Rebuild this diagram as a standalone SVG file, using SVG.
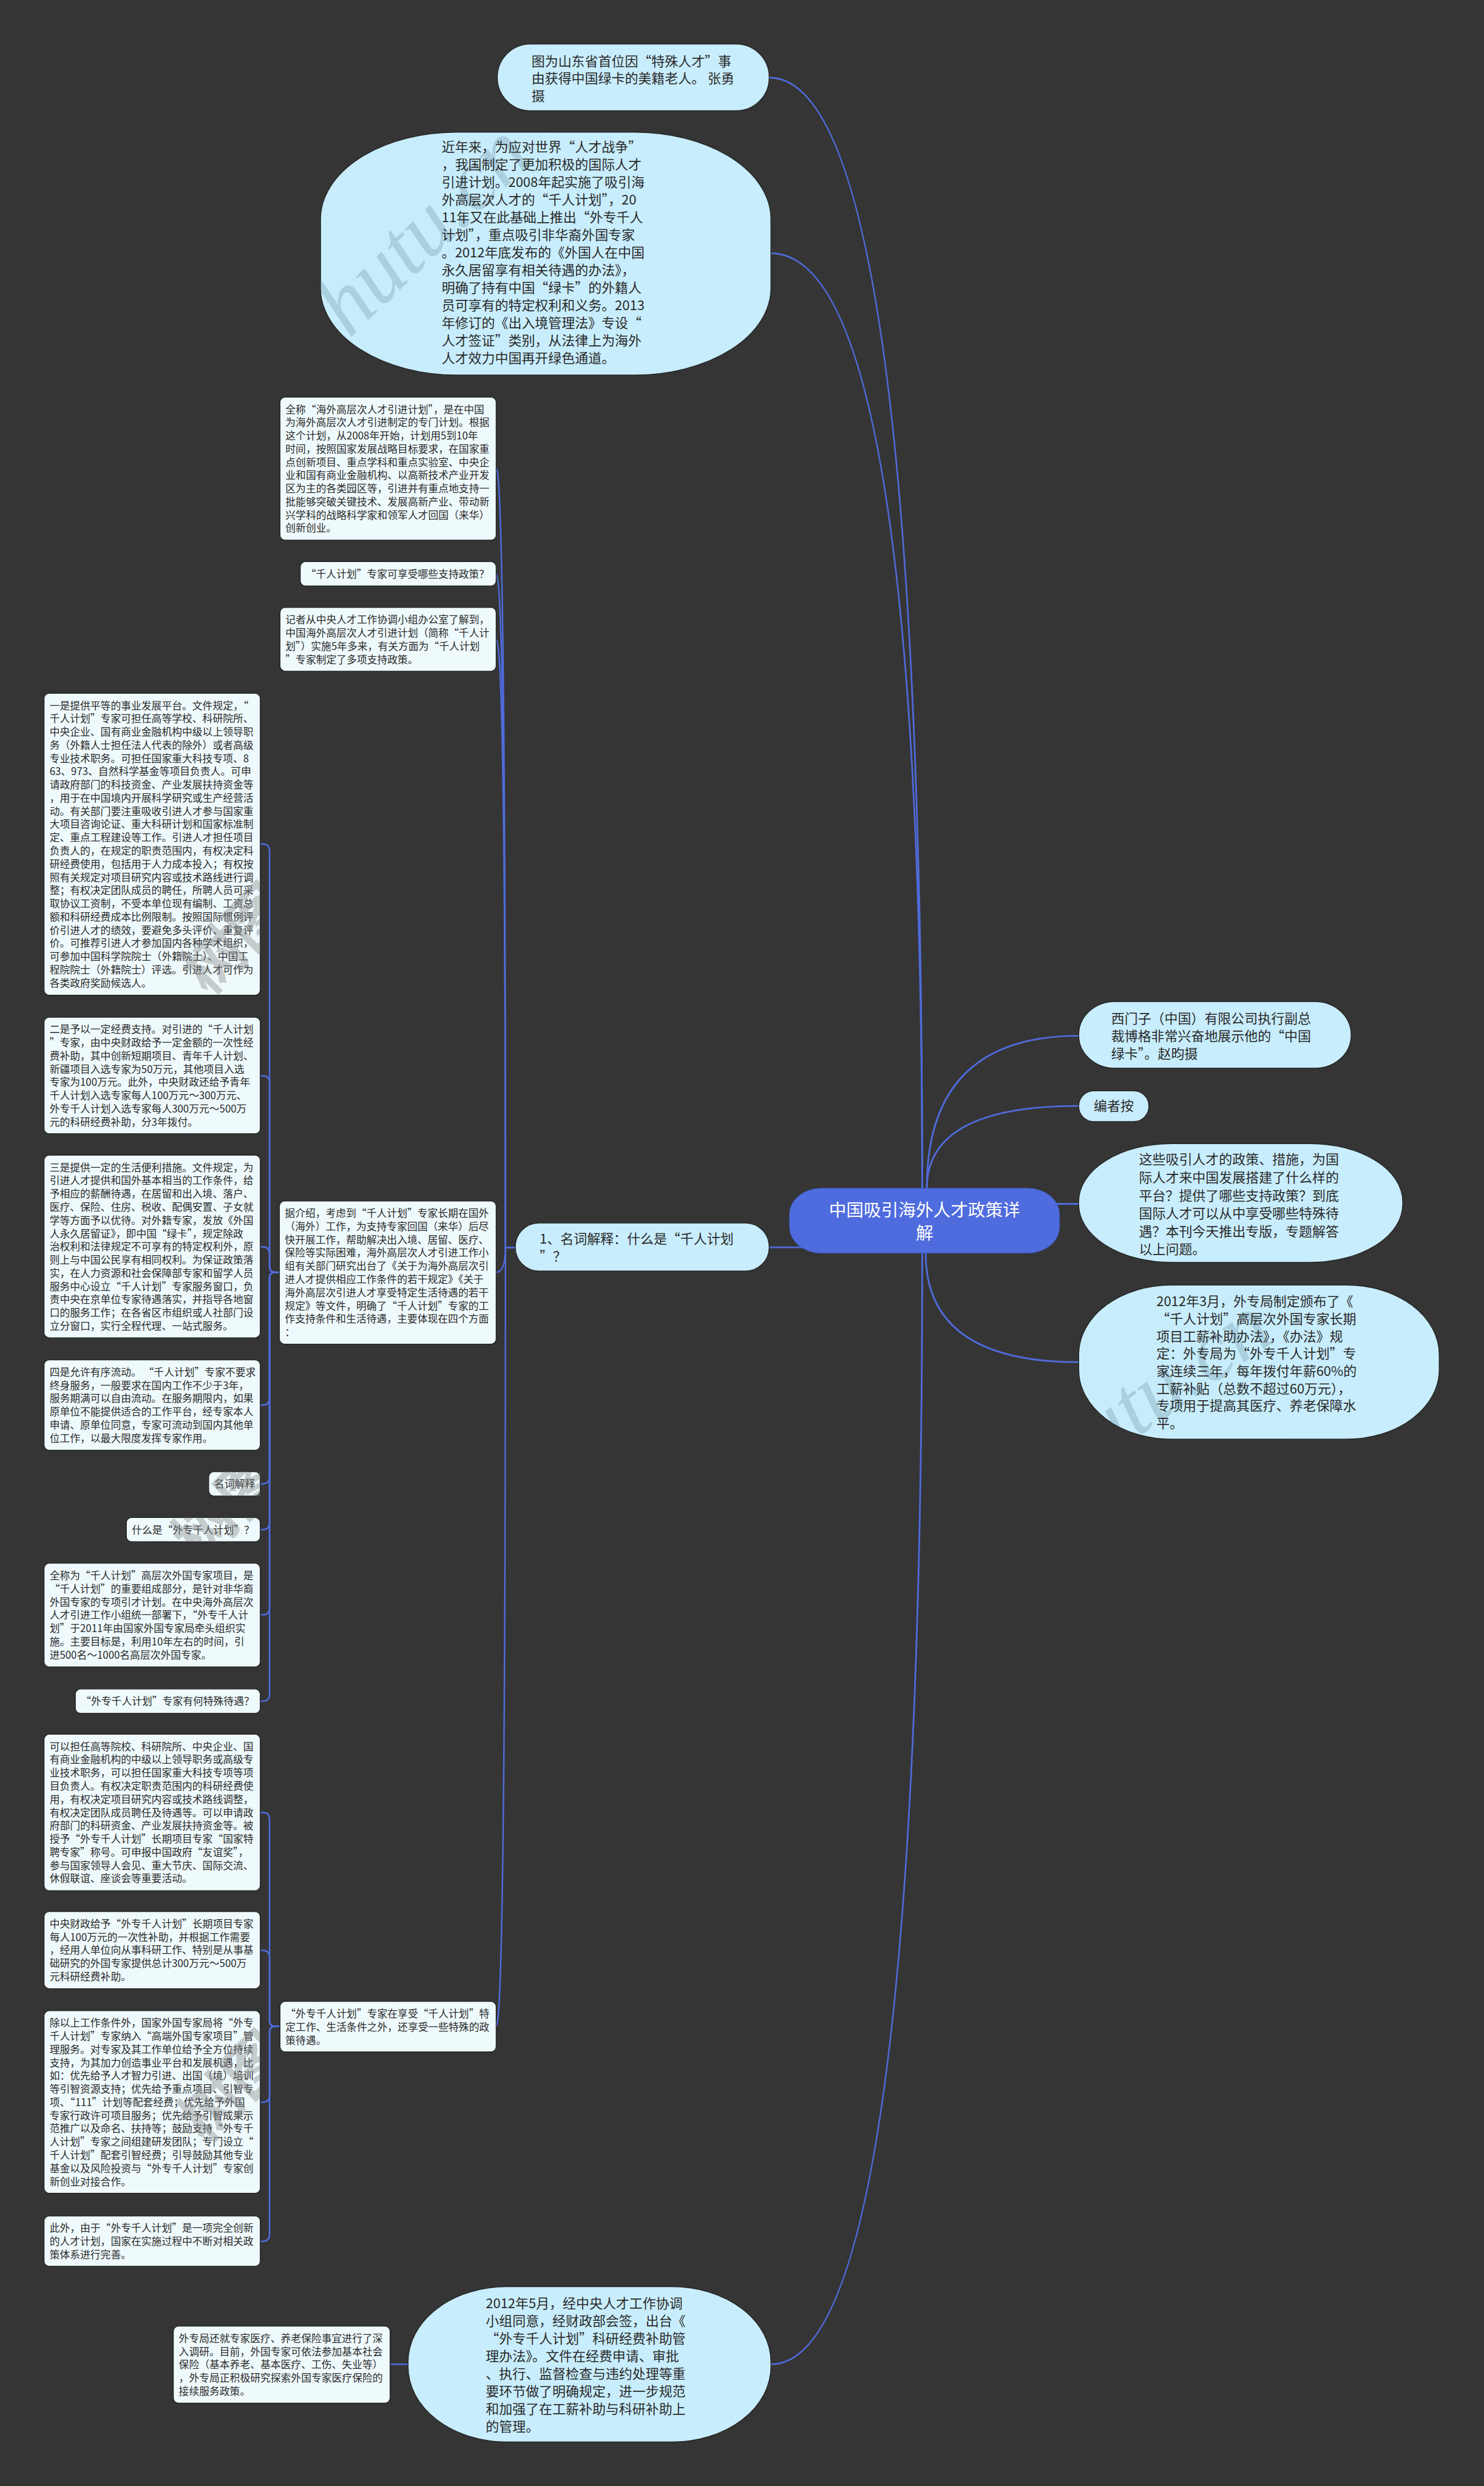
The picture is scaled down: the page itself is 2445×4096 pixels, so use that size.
<svg xmlns="http://www.w3.org/2000/svg" width="2445" height="4096" viewBox="0 0 2445 4096">
<style>
.bub{fill:#C8EDFC;stroke:#262626;stroke-width:1.5}
.box{fill:#EFFAFD;stroke:#262626;stroke-width:1.5}
.root{fill:#4F6CDE;stroke:#3d56b8;stroke-width:1}
.t1{font-family:"Noto Sans CJK SC","Noto Sans",sans-serif;font-size:23px;fill:#2a2a2a}
.t2{font-family:"Noto Sans CJK SC","Noto Sans",sans-serif;font-size:17.6px;fill:#2a2a2a}
.tr{font-family:"Noto Sans CJK SC","Noto Sans",sans-serif;font-size:30px;fill:#ffffff;text-anchor:middle}
.con{fill:none;stroke:#4F6BDB;stroke-width:3;stroke-linecap:round}
.con2{fill:none;stroke:#4F6BDB;stroke-width:2.6;stroke-linecap:round}
.wm{font-family:"Liberation Serif",serif;font-style:italic;font-size:150px;fill:#6f93a5;opacity:0.32}
.wm2{font-family:"Noto Sans CJK SC",sans-serif;font-weight:bold;font-size:105px;fill:#888888;opacity:0.4}
</style>
<defs>
<clipPath id="clipB"><rect x="553" y="228" width="777" height="419" rx="235" ry="150"/></clipPath>
<clipPath id="clipM"><rect x="1861" y="2217" width="622" height="266" rx="160" ry="120"/></clipPath>
<clipPath id="clipL">
<rect x="76" y="1196" width="373" height="521"/>
<rect x="360" y="2539" width="89" height="42"/>
<rect x="218" y="2618" width="231" height="42"/>
<rect x="76" y="2697" width="373" height="179"/>
<rect x="76" y="3469" width="373" height="315"/>
</clipPath>
</defs>
<rect x="0" y="0" width="2445" height="4096" fill="#353535"/>
<g transform="scale(0.955)">
<g id="connectors">
<path class="con" d="M1591 2106 V2050 Q1591 134 1327 134"/>
<path class="con" d="M1591 2106 V2050 Q1591 437 1330 437"/>
<path class="con" d="M1595 2152 H1327"/>
<path class="con" d="M1591 2106 V2162 Q1591 4079 1330 4079"/>
<path class="con" d="M1599 2106 V2050 Q1599 1787 1861 1787"/>
<path class="con" d="M1599 2106 V2050 Q1599 1908 1861 1908"/>
<path class="con" d="M1800 2077 H1861"/>
<path class="con" d="M1597 2106 V2162 Q1597 2350 1861 2350"/>
<path class="con2" d="M889 2152 H872 Q872 808 856 808"/>
<path class="con2" d="M889 2152 H872 Q872 990 856 990"/>
<path class="con2" d="M889 2152 H872 Q872 1103 856 1103"/>
<path class="con2" d="M889 2152 H872 Q872 2195 856 2195"/>
<path class="con2" d="M889 2152 H872 Q872 3496 856 3496"/>
<path class="con2" d="M482 2195 H475 Q465 2195 465 2185 V1468 Q465 1456 453 1456 H449"/>
<path class="con2" d="M482 2195 H475 Q465 2195 465 2185 V1868 Q465 1856 453 1856 H449"/>
<path class="con2" d="M482 2195 H475 Q465 2195 465 2185 V2163 Q465 2151 453 2151 H449"/>
<path class="con2" d="M482 2195 H475 Q465 2195 465 2205 V2412 Q465 2424 453 2424 H449"/>
<path class="con2" d="M482 2195 H475 Q465 2195 465 2205 V2548 Q465 2560 453 2560 H449"/>
<path class="con2" d="M482 2195 H475 Q465 2195 465 2205 V2627 Q465 2639 453 2639 H449"/>
<path class="con2" d="M482 2195 H475 Q465 2195 465 2205 V2774 Q465 2786 453 2786 H449"/>
<path class="con2" d="M482 2195 H475 Q465 2195 465 2205 V2923 Q465 2935 453 2935 H449"/>
<path class="con2" d="M483 3496 H475 Q465 3496 465 3486 V3139 Q465 3127 453 3127 H449"/>
<path class="con2" d="M483 3496 H475 Q465 3496 465 3486 V3377 Q465 3365 453 3365 H449"/>
<path class="con2" d="M483 3496 H475 Q465 3496 465 3506 V3615 Q465 3627 453 3627 H449"/>
<path class="con2" d="M483 3496 H475 Q465 3496 465 3506 V3855 Q465 3867 453 3867 H449"/>
<path class="con2" d="M704 4079 H673"/>
</g>

<g id="n-top-photo">
<rect class="bub" x="858" y="76" width="469" height="115" rx="57" ry="57"/>
<text class="t1" x="917" y="113.7"><tspan x="917" dy="0">图为山东省首位因“特殊人才”事</tspan><tspan x="917" dy="30">由获得中国绿卡的美籍老人。 张勇</tspan><tspan x="917" dy="30">摄</tspan></text>
</g>

<g id="n-intro">
<rect class="bub" x="553" y="228" width="777" height="419" rx="235" ry="150"/>
<g clip-path="url(#clipB)"><text class="wm" x="560" y="625" transform="rotate(-44 560 625)">shutu.cn</text></g>
<text class="t1" x="762" y="261.7"><tspan x="762" dy="0">近年来，为应对世界“人才战争”</tspan><tspan x="762" dy="30.4">，我国制定了更加积极的国际人才</tspan><tspan x="762" dy="30.4">引进计划。2008年起实施了吸引海</tspan><tspan x="762" dy="30.4">外高层次人才的“千人计划”，20</tspan><tspan x="762" dy="30.4">11年又在此基础上推出“外专千人</tspan><tspan x="762" dy="30.4">计划”，重点吸引非华裔外国专家</tspan><tspan x="762" dy="30.4">。2012年底发布的《外国人在中国</tspan><tspan x="762" dy="30.4">永久居留享有相关待遇的办法》，</tspan><tspan x="762" dy="30.4">明确了持有中国“绿卡”的外籍人</tspan><tspan x="762" dy="30.4">员可享有的特定权利和义务。2013</tspan><tspan x="762" dy="30.4">年修订的《出入境管理法》专设“</tspan><tspan x="762" dy="30.4">人才签证”类别，从法律上为海外</tspan><tspan x="762" dy="30.4">人才效力中国再开绿色通道。</tspan></text>
</g>

<g id="n-root">
<rect class="root" x="1362" y="2050" width="466" height="112" rx="55" ry="45"/>
<text class="tr" x="1595" y="2098.4"><tspan x="1595" dy="0">中国吸引海外人才政策详</tspan><tspan x="1595" dy="40">解</tspan></text>
</g>

<g id="n-siemens">
<rect class="bub" x="1861" y="1728" width="470" height="115" rx="62" ry="57"/>
<text class="t1" x="1917" y="1765.7"><tspan x="1917" dy="0">西门子（中国）有限公司执行副总</tspan><tspan x="1917" dy="30">裁博格非常兴奋地展示他的“中国</tspan><tspan x="1917" dy="30">绿卡”。赵昀摄</tspan></text>
</g>

<g id="n-editor">
<rect class="bub" x="1861" y="1882" width="121" height="53" rx="26" ry="26"/>
<text class="t1" x="1887" y="1916.7">编者按</text>
</g>

<g id="n-questions">
<rect class="bub" x="1861" y="1973" width="559" height="205" rx="160" ry="100"/>
<text class="t1" x="1965" y="2008.7"><tspan x="1965" dy="0">这些吸引人才的政策、措施，为国</tspan><tspan x="1965" dy="31">际人才来中国发展搭建了什么样的</tspan><tspan x="1965" dy="31">平台？提供了哪些支持政策？到底</tspan><tspan x="1965" dy="31">国际人才可以从中享受哪些特殊待</tspan><tspan x="1965" dy="31">遇？本刊今天推出专版，专题解答</tspan><tspan x="1965" dy="31">以上问题。</tspan></text>
</g>

<g id="n-march2012">
<rect class="bub" x="1861" y="2217" width="622" height="266" rx="160" ry="120"/>
<g clip-path="url(#clipM)"><text class="wm" x="1790" y="2600" transform="rotate(-35 1790 2600)">shutu.cn</text></g>
<text class="t1" x="1995" y="2253.7"><tspan x="1995" dy="0">2012年3月，外专局制定颁布了《</tspan><tspan x="1995" dy="30">“千人计划”高层次外国专家长期</tspan><tspan x="1995" dy="30">项目工薪补助办法》，《办法》规</tspan><tspan x="1995" dy="30">定：外专局为“外专千人计划”专</tspan><tspan x="1995" dy="30">家连续三年，每年拨付年薪60%的</tspan><tspan x="1995" dy="30">工薪补贴（总数不超过60万元），</tspan><tspan x="1995" dy="30">专项用于提高其医疗、养老保障水</tspan><tspan x="1995" dy="30">平。</tspan></text>
</g>

<g id="n-q1">
<rect class="bub" x="889" y="2110" width="438" height="83" rx="41" ry="41"/>
<text class="t1" x="931" y="2145.7"><tspan x="931" dy="0">1、名词解释：什么是“千人计划</tspan><tspan x="931" dy="30">”？</tspan></text>
</g>

<g id="n-may2012">
<rect class="bub" x="704" y="3945" width="626" height="268" rx="170" ry="130"/>
<text class="t1" x="838" y="3981.7"><tspan x="838" dy="0">2012年5月，经中央人才工作协调</tspan><tspan x="838" dy="30.5">小组同意，经财政部会签，出台《</tspan><tspan x="838" dy="30.5">“外专千人计划”科研经费补助管</tspan><tspan x="838" dy="30.5">理办法》。文件在经费申请、审批</tspan><tspan x="838" dy="30.5">、执行、监督检查与违约处理等重</tspan><tspan x="838" dy="30.5">要环节做了明确规定，进一步规范</tspan><tspan x="838" dy="30.5">和加强了在工薪补助与科研补助上</tspan><tspan x="838" dy="30.5">的管理。</tspan></text>
</g>

<g id="n-insurance">
<rect class="box" x="299" y="4013" width="374" height="133" rx="9"/>
<text class="t2" x="308.5" y="4040.6"><tspan x="308.5" dy="0">外专局还就专家医疗、养老保险事宜进行了深</tspan><tspan x="308.5" dy="22.8">入调研。目前，外国专家可依法参加基本社会</tspan><tspan x="308.5" dy="22.8">保险（基本养老、基本医疗、工伤、失业等）</tspan><tspan x="308.5" dy="22.8">，外专局正积极研究探索外国专家医疗保险的</tspan><tspan x="308.5" dy="22.8">接续服务政策。</tspan></text>
</g>

<g id="n-fullname">
<rect class="box" x="483" y="685" width="373" height="247" rx="9"/>
<text class="t2" x="492.5" y="712.6"><tspan x="492.5" dy="0">全称“海外高层次人才引进计划”，是在中国</tspan><tspan x="492.5" dy="22.8">为海外高层次人才引进制定的专门计划。根据</tspan><tspan x="492.5" dy="22.8">这个计划，从2008年开始，计划用5到10年</tspan><tspan x="492.5" dy="22.8">时间，按照国家发展战略目标要求，在国家重</tspan><tspan x="492.5" dy="22.8">点创新项目、重点学科和重点实验室、中央企</tspan><tspan x="492.5" dy="22.8">业和国有商业金融机构、以高新技术产业开发</tspan><tspan x="492.5" dy="22.8">区为主的各类园区等，引进并有重点地支持一</tspan><tspan x="492.5" dy="22.8">批能够突破关键技术、发展高新产业、带动新</tspan><tspan x="492.5" dy="22.8">兴学科的战略科学家和领军人才回国（来华）</tspan><tspan x="492.5" dy="22.8">创新创业。</tspan></text>
</g>

<g id="n-policies-q">
<rect class="box" x="518" y="969" width="338" height="42" rx="9"/>
<text class="t2" x="527.5" y="996.6">“千人计划”专家可享受哪些支持政策？</text>
</g>

<g id="n-reporter">
<rect class="box" x="483" y="1048" width="373" height="110" rx="9"/>
<text class="t2" x="492.5" y="1075.6"><tspan x="492.5" dy="0">记者从中央人才工作协调小组办公室了解到，</tspan><tspan x="492.5" dy="22.8">中国海外高层次人才引进计划（简称“千人计</tspan><tspan x="492.5" dy="22.8">划”）实施5年多来，有关方面为“千人计划</tspan><tspan x="492.5" dy="22.8">”专家制定了多项支持政策。</tspan></text>
</g>

<g id="n-intro2">
<rect class="box" x="482" y="2072" width="374" height="247" rx="9"/>
<text class="t2" x="491.5" y="2099.6"><tspan x="491.5" dy="0">据介绍，考虑到“千人计划”专家长期在国外</tspan><tspan x="491.5" dy="22.8">（海外）工作，为支持专家回国（来华）后尽</tspan><tspan x="491.5" dy="22.8">快开展工作，帮助解决出入境、居留、医疗、</tspan><tspan x="491.5" dy="22.8">保险等实际困难，海外高层次人才引进工作小</tspan><tspan x="491.5" dy="22.8">组有关部门研究出台了《关于为海外高层次引</tspan><tspan x="491.5" dy="22.8">进人才提供相应工作条件的若干规定》《关于</tspan><tspan x="491.5" dy="22.8">海外高层次引进人才享受特定生活待遇的若干</tspan><tspan x="491.5" dy="22.8">规定》等文件，明确了“千人计划”专家的工</tspan><tspan x="491.5" dy="22.8">作支持条件和生活待遇，主要体现在四个方面</tspan><tspan x="491.5" dy="22.8">：</tspan></text>
</g>

<g id="n-foreign-special">
<rect class="box" x="483" y="3453" width="373" height="87" rx="9"/>
<text class="t2" x="492.5" y="3480.6"><tspan x="492.5" dy="0">“外专千人计划”专家在享受“千人计划”特</tspan><tspan x="492.5" dy="22.8">定工作、生活条件之外，还享受一些特殊的政</tspan><tspan x="492.5" dy="22.8">策待遇。</tspan></text>
</g>

<g id="n-one">
<rect class="box" x="76" y="1196" width="373" height="521" rx="9"/>
<text class="t2" x="85.5" y="1223.6"><tspan x="85.5" dy="0">一是提供平等的事业发展平台。文件规定，“</tspan><tspan x="85.5" dy="22.8">千人计划”专家可担任高等学校、科研院所、</tspan><tspan x="85.5" dy="22.8">中央企业、国有商业金融机构中级以上领导职</tspan><tspan x="85.5" dy="22.8">务（外籍人士担任法人代表的除外）或者高级</tspan><tspan x="85.5" dy="22.8">专业技术职务。可担任国家重大科技专项、8</tspan><tspan x="85.5" dy="22.8">63、973、自然科学基金等项目负责人。可申</tspan><tspan x="85.5" dy="22.8">请政府部门的科技资金、产业发展扶持资金等</tspan><tspan x="85.5" dy="22.8">，用于在中国境内开展科学研究或生产经营活</tspan><tspan x="85.5" dy="22.8">动。有关部门要注重吸收引进人才参与国家重</tspan><tspan x="85.5" dy="22.8">大项目咨询论证、重大科研计划和国家标准制</tspan><tspan x="85.5" dy="22.8">定、重点工程建设等工作。引进人才担任项目</tspan><tspan x="85.5" dy="22.8">负责人的，在规定的职责范围内，有权决定科</tspan><tspan x="85.5" dy="22.8">研经费使用，包括用于人力成本投入；有权按</tspan><tspan x="85.5" dy="22.8">照有关规定对项目研究内容或技术路线进行调</tspan><tspan x="85.5" dy="22.8">整；有权决定团队成员的聘任，所聘人员可采</tspan><tspan x="85.5" dy="22.8">取协议工资制，不受本单位现有编制、工资总</tspan><tspan x="85.5" dy="22.8">额和科研经费成本比例限制。按照国际惯例评</tspan><tspan x="85.5" dy="22.8">价引进人才的绩效，要避免多头评价、重复评</tspan><tspan x="85.5" dy="22.8">价。可推荐引进人才参加国内各种学术组织，</tspan><tspan x="85.5" dy="22.8">可参加中国科学院院士（外籍院士）、中国工</tspan><tspan x="85.5" dy="22.8">程院院士（外籍院士）评选。引进人才可作为</tspan><tspan x="85.5" dy="22.8">各类政府奖励候选人。</tspan></text>
</g>

<g id="n-two">
<rect class="box" x="76" y="1755" width="373" height="201" rx="9"/>
<text class="t2" x="85.5" y="1782.6"><tspan x="85.5" dy="0">二是予以一定经费支持。对引进的“千人计划</tspan><tspan x="85.5" dy="22.8">”专家，由中央财政给予一定金额的一次性经</tspan><tspan x="85.5" dy="22.8">费补助，其中创新短期项目、青年千人计划、</tspan><tspan x="85.5" dy="22.8">新疆项目入选专家为50万元，其他项目入选</tspan><tspan x="85.5" dy="22.8">专家为100万元。此外，中央财政还给予青年</tspan><tspan x="85.5" dy="22.8">千人计划入选专家每人100万元～300万元、</tspan><tspan x="85.5" dy="22.8">外专千人计划入选专家每人300万元～500万</tspan><tspan x="85.5" dy="22.8">元的科研经费补助，分3年拨付。</tspan></text>
</g>

<g id="n-three">
<rect class="box" x="76" y="1993" width="373" height="315" rx="9"/>
<text class="t2" x="85.5" y="2020.6"><tspan x="85.5" dy="0">三是提供一定的生活便利措施。文件规定，为</tspan><tspan x="85.5" dy="22.8">引进人才提供和国外基本相当的工作条件，给</tspan><tspan x="85.5" dy="22.8">予相应的薪酬待遇，在居留和出入境、落户、</tspan><tspan x="85.5" dy="22.8">医疗、保险、住房、税收、配偶安置、子女就</tspan><tspan x="85.5" dy="22.8">学等方面予以优待。对外籍专家，发放《外国</tspan><tspan x="85.5" dy="22.8">人永久居留证》，即中国“绿卡”，规定除政</tspan><tspan x="85.5" dy="22.8">治权利和法律规定不可享有的特定权利外，原</tspan><tspan x="85.5" dy="22.8">则上与中国公民享有相同权利。为保证政策落</tspan><tspan x="85.5" dy="22.8">实，在人力资源和社会保障部专家和留学人员</tspan><tspan x="85.5" dy="22.8">服务中心设立“千人计划”专家服务窗口，负</tspan><tspan x="85.5" dy="22.8">责中央在京单位专家待遇落实，并指导各地窗</tspan><tspan x="85.5" dy="22.8">口的服务工作；在各省区市组织或人社部门设</tspan><tspan x="85.5" dy="22.8">立分窗口，实行全程代理、一站式服务。</tspan></text>
</g>

<g id="n-four">
<rect class="box" x="76" y="2346" width="373" height="156" rx="9"/>
<text class="t2" x="85.5" y="2373.6"><tspan x="85.5" dy="0">四是允许有序流动。 “千人计划”专家不要求</tspan><tspan x="85.5" dy="22.8">终身服务，一般要求在国内工作不少于3年，</tspan><tspan x="85.5" dy="22.8">服务期满可以自由流动。在服务期限内，如果</tspan><tspan x="85.5" dy="22.8">原单位不能提供适合的工作平台，经专家本人</tspan><tspan x="85.5" dy="22.8">申请、原单位同意，专家可流动到国内其他单</tspan><tspan x="85.5" dy="22.8">位工作，以最大限度发挥专家作用。</tspan></text>
</g>

<g id="n-term">
<rect class="box" x="360" y="2539" width="89" height="42" rx="9"/>
<text class="t2" x="369.5" y="2566.6">名词解释</text>
</g>

<g id="n-what-foreign">
<rect class="box" x="218" y="2618" width="231" height="42" rx="9"/>
<text class="t2" x="227.5" y="2645.6">什么是“外专千人计划”？</text>
</g>

<g id="n-foreign-fullname">
<rect class="box" x="76" y="2697" width="373" height="179" rx="9"/>
<text class="t2" x="85.5" y="2724.6"><tspan x="85.5" dy="0">全称为“千人计划”高层次外国专家项目，是</tspan><tspan x="85.5" dy="22.8">“千人计划”的重要组成部分，是针对非华裔</tspan><tspan x="85.5" dy="22.8">外国专家的专项引才计划。在中央海外高层次</tspan><tspan x="85.5" dy="22.8">人才引进工作小组统一部署下，“外专千人计</tspan><tspan x="85.5" dy="22.8">划”于2011年由国家外国专家局牵头组织实</tspan><tspan x="85.5" dy="22.8">施。主要目标是，利用10年左右的时间，引</tspan><tspan x="85.5" dy="22.8">进500名～1000名高层次外国专家。</tspan></text>
</g>

<g id="n-foreign-treat-q">
<rect class="box" x="130" y="2914" width="319" height="42" rx="9"/>
<text class="t2" x="139.5" y="2941.6">“外专千人计划”专家有何特殊待遇？</text>
</g>

<g id="n-can-serve">
<rect class="box" x="76" y="2992" width="373" height="270" rx="9"/>
<text class="t2" x="85.5" y="3019.6"><tspan x="85.5" dy="0">可以担任高等院校、科研院所、中央企业、国</tspan><tspan x="85.5" dy="22.8">有商业金融机构的中级以上领导职务或高级专</tspan><tspan x="85.5" dy="22.8">业技术职务，可以担任国家重大科技专项等项</tspan><tspan x="85.5" dy="22.8">目负责人。有权决定职责范围内的科研经费使</tspan><tspan x="85.5" dy="22.8">用，有权决定项目研究内容或技术路线调整，</tspan><tspan x="85.5" dy="22.8">有权决定团队成员聘任及待遇等。可以申请政</tspan><tspan x="85.5" dy="22.8">府部门的科研资金、产业发展扶持资金等。被</tspan><tspan x="85.5" dy="22.8">授予“外专千人计划”长期项目专家“国家特</tspan><tspan x="85.5" dy="22.8">聘专家”称号。可申报中国政府“友谊奖”，</tspan><tspan x="85.5" dy="22.8">参与国家领导人会见、重大节庆、国际交流、</tspan><tspan x="85.5" dy="22.8">休假联谊、座谈会等重要活动。</tspan></text>
</g>

<g id="n-central-fund">
<rect class="box" x="76" y="3298" width="373" height="133" rx="9"/>
<text class="t2" x="85.5" y="3325.6"><tspan x="85.5" dy="0">中央财政给予“外专千人计划”长期项目专家</tspan><tspan x="85.5" dy="22.8">每人100万元的一次性补助，并根据工作需要</tspan><tspan x="85.5" dy="22.8">，经用人单位向从事科研工作、特别是从事基</tspan><tspan x="85.5" dy="22.8">础研究的外国专家提供总计300万元～500万</tspan><tspan x="85.5" dy="22.8">元科研经费补助。</tspan></text>
</g>

<g id="n-besides">
<rect class="box" x="76" y="3469" width="373" height="315" rx="9"/>
<text class="t2" x="85.5" y="3496.6"><tspan x="85.5" dy="0">除以上工作条件外，国家外国专家局将“外专</tspan><tspan x="85.5" dy="22.8">千人计划”专家纳入“高端外国专家项目”管</tspan><tspan x="85.5" dy="22.8">理服务。对专家及其工作单位给予全方位持续</tspan><tspan x="85.5" dy="22.8">支持，为其加力创造事业平台和发展机遇，比</tspan><tspan x="85.5" dy="22.8">如：优先给予人才智力引进、出国（境）培训</tspan><tspan x="85.5" dy="22.8">等引智资源支持；优先给予重点项目、引智专</tspan><tspan x="85.5" dy="22.8">项、“111”计划等配套经费；优先给予外国</tspan><tspan x="85.5" dy="22.8">专家行政许可项目服务；优先给予引智成果示</tspan><tspan x="85.5" dy="22.8">范推广以及命名、扶持等；鼓励支持“外专千</tspan><tspan x="85.5" dy="22.8">人计划”专家之间组建研发团队；专门设立“</tspan><tspan x="85.5" dy="22.8">千人计划”配套引智经费；引导鼓励其他专业</tspan><tspan x="85.5" dy="22.8">基金以及风险投资与“外专千人计划”专家创</tspan><tspan x="85.5" dy="22.8">新创业对接合作。</tspan></text>
</g>

<g id="n-moreover">
<rect class="box" x="76" y="3823" width="373" height="87" rx="9"/>
<text class="t2" x="85.5" y="3850.6"><tspan x="85.5" dy="0">此外，由于“外专千人计划”是一项完全创新</tspan><tspan x="85.5" dy="22.8">的人才计划，国家在实施过程中不断对相关政</tspan><tspan x="85.5" dy="22.8">策体系进行完善。</tspan></text>
</g>

<g id="watermarks" clip-path="url(#clipL)">
<text class="wm2" x="360" y="1720" transform="rotate(-45 360 1720)">树图</text>
<text class="wm2" x="345" y="2700" transform="rotate(-45 345 2700)">树图</text>
<text class="wm2" x="355" y="3700" transform="rotate(-45 355 3700)">树图</text>
</g>
</g>
</svg>
